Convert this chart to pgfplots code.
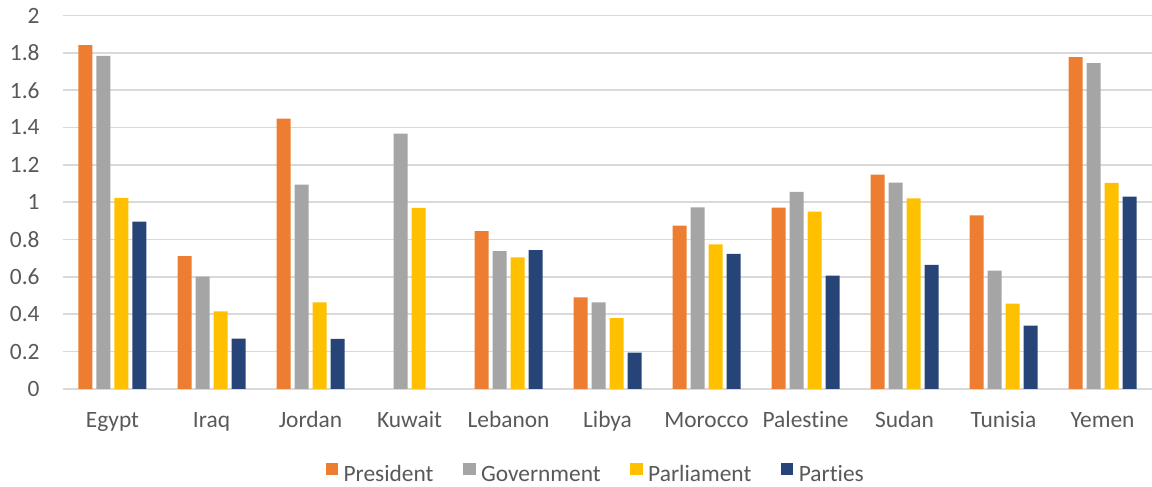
\documentclass[border=0pt]{standalone}
\usepackage{pgfplots}
\pgfplotsset{compat=1.18}
\usepackage{pgfplotstable}
\usepackage{fontspec}
\setmainfont{Carlito}[Ligatures={NoCommon}]
\definecolor{cPres}{HTML}{ED7D31}
\definecolor{cGov}{HTML}{A5A5A5}
\definecolor{cParl}{HTML}{FFC000}
\definecolor{cPart}{HTML}{264478}
\definecolor{txt}{HTML}{595959}
\definecolor{grd}{HTML}{D9D9D9}
\pgfplotstableread{
x Pres Gov Parl Part
0 1.841 1.784 1.023 0.896
1 0.711 0.602 0.416 0.270
2 1.448 1.095 0.464 0.268
3 nan   1.368 0.970 nan
4 0.845 0.738 0.705 0.743
5 0.491 0.464 0.379 0.195
6 0.875 0.973 0.775 0.723
7 0.971 1.055 0.950 0.607
8 1.148 1.105 1.021 0.664
9 0.930 0.634 0.457 0.339
10 1.777 1.745 1.104 1.030
}\datatab
\begin{document}
\begin{tikzpicture}
\path[use as bounding box] (0,0) rectangle (576pt,243.5pt);
\begin{axis}[
  at={(31.5pt,49pt)}, anchor=south west,
  scale only axis, width=544.5pt, height=186.75pt,
  xmin=-0.5, xmax=10.5, ymin=0, ymax=2,
  ybar=2pt, bar width=7pt,
  xtick={0,...,10},
  xticklabels={Egypt,Iraq,Jordan,Kuwait,Lebanon,Libya,Morocco,Palestine,Sudan,Tunisia,Yemen},
  ytick={0,0.2,...,2.01},
  yticklabels={0,0.2,0.4,0.6,0.8,1,1.2,1.4,1.6,1.8,2},
  ymajorgrids, grid style={grd, line width=0.8pt},
  axis line style={draw=none},
  major tick length=0pt,
  unbounded coords=discard,
  tick label style={font=\fontsize{11.7}{13}\selectfont, text=txt},
  xticklabel style={anchor=base, yshift=-19.5pt, inner sep=0pt},
  yticklabel style={anchor=east, inner sep=0pt, xshift=-11.5pt},
  legend columns=4,
  legend style={at={(0.4883,-0.257)}, anchor=south, draw=none,
    inner sep=0pt, outer sep=0pt,
    font=\fontsize{11.7}{13}\selectfont, text=txt,
    nodes={inner sep=0pt},
    column sep=2.75pt,
    /tikz/every even column/.append style={column sep=14.8pt}},
  legend image code/.code={\fill[#1] (0pt,0.25pt) rectangle (6.2pt,6.4pt);},
]
\addplot[fill=cPres, draw=none] table[x=x, y=Pres] {\datatab};
\addplot[fill=cGov, draw=none] table[x=x, y=Gov] {\datatab};
\addplot[fill=cParl, draw=none] table[x=x, y=Parl] {\datatab};
\addplot[fill=cPart, draw=none] table[x=x, y=Part] {\datatab};
\legend{President,Government,Parliament,Parties}
\end{axis}
\end{tikzpicture}
\end{document}
